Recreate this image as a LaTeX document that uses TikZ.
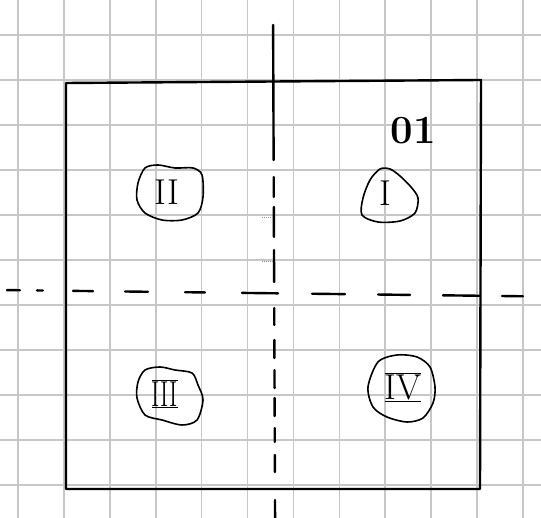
\RequirePackage{fix-cm}
\documentclass[tikz,border=0pt]{standalone}
\usepackage{fontspec}
\usepackage{tikz}
\usetikzlibrary{positioning}

\begin{document}
\begin{tikzpicture}[x=1pt, y=-1pt,
  gridline/.style={black!22, line width=1.6pt},
  ink/.style={black, line width=2.4pt, line cap=round},
  blob/.style={black, line width=1.6pt, smooth cycle},
  numeral/.style={font=\fontsize{36}{36}\selectfont}]
  \useasboundingbox (0,0) rectangle (541,518);
  \fill[white] (0,0) rectangle (541,518);
  % squared paper
  \foreach \gx in {0,...,11}
    \draw[gridline] ({18+45.9*\gx},0) -- ({18+45.9*\gx},518);
  \foreach \gy in {0,...,10}
    \draw[gridline] (0,{35+45*\gy}) -- (541,{35+45*\gy});
  % square
  \draw[ink, line join=round] (66,83) -- (481,80) -- (480,489) -- (66,489) -- cycle;
  % axes, hand-dashed
  \foreach \a/\b in {7/20, 37/43, 73/93, 125/148, 185/205, 242/278, 312/345, 378/410, 443/480, 502/523}
    \draw[ink] (\a,{290+0.012*\a}) -- (\b,{290+0.012*\b});
  \foreach \a/\b in {25/160, 177/197, 207/237, 250/282, 308/325, 340/358, 370/388, 398/416, 428/442, 455/472, 500/518}
    \draw[ink] ({273+0.004*\a},\a) -- ({273+0.004*\b},\b);
  \draw[black!45, densely dotted, line width=1pt] (262,218) -- (273,218);
  \draw[black!45, densely dotted, line width=1pt] (262,262) -- (273,262);
  % label
  \node[font=\fontsize{40}{40}\selectfont\bfseries] (lbl) at (413,131) {01};
  % quadrants
  \node[numeral] (q2) at (167,192) {II};
  \draw[blob] plot coordinates {(145,168) (158,165) (175,168) (193,168) (202,175) (203,197) (198,213) (182,220) (162,220) (145,213) (137,200) (138,183)};
  \node[numeral] (q1) at (385,193) {I};
  \draw[blob] plot coordinates {(380,169) (390,169) (400,176) (411,187) (418,198) (415,213) (400,221) (378,222) (362,215) (363,198) (370,180)};
  \node[numeral] (q3) at (165,394) {$\overline{\underline{\scalebox{0.7}[1]{\rm III}}}$};
  \draw[blob] plot coordinates {(145,370) (160,367) (175,370) (192,373) (198,385) (203,400) (197,420) (182,425) (162,420) (145,415) (137,398) (138,382)};
  \node[numeral] (q4) at (403,387) {$\overline{\underline{\rm IV}}$};
  \draw[blob] plot coordinates {(378,362) (397,355) (417,357) (430,367) (435,387) (433,403) (423,418) (407,422) (387,417) (373,407) (368,387)};
\end{tikzpicture}
\end{document}
